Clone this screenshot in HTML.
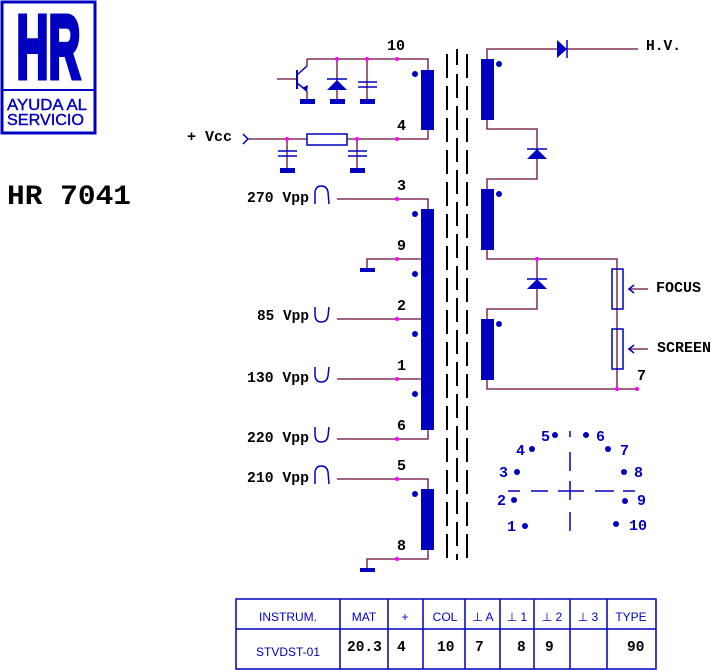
<!DOCTYPE html>
<html><head><meta charset="utf-8"><style>
body{margin:0;background:#fff;}
svg{display:block;}
.n{font-family:"Liberation Mono",monospace;font-weight:bold;font-size:15px;fill:#000;}
.b{font-family:"Liberation Mono",monospace;font-weight:bold;font-size:14.5px;fill:#000;}
.p{font-family:"Liberation Mono",monospace;font-weight:bold;font-size:15px;fill:#0000c0;}
.t{font-family:"Liberation Sans",sans-serif;font-size:12px;fill:#0000c0;}
</style></head><body>
<svg width="712" height="670" viewBox="0 0 712 670" xmlns="http://www.w3.org/2000/svg">
<!-- logo -->
<rect x="2" y="2" width="93" height="131" fill="none" stroke="#0000c0" stroke-width="3"/>
<line x1="2" y1="90" x2="95" y2="90" stroke="#0000c0" stroke-width="2"/>
<text x="48.5" y="78" text-anchor="middle" font-family="Liberation Sans,sans-serif" font-weight="bold" font-size="90" fill="#0000c0" stroke="#0000c0" stroke-width="5" textLength="64" lengthAdjust="spacingAndGlyphs">HR</text>
<text x="7" y="110" font-family="Liberation Sans,sans-serif" font-size="16" fill="#0000c0" stroke="#0000c0" stroke-width="0.4" textLength="80" lengthAdjust="spacingAndGlyphs">AYUDA AL</text>
<text x="7" y="125" font-family="Liberation Sans,sans-serif" font-size="16" fill="#0000c0" stroke="#0000c0" stroke-width="0.4" textLength="77" lengthAdjust="spacingAndGlyphs">SERVICIO</text>
<text x="7" y="204" font-family="Liberation Mono,monospace" font-weight="bold" font-size="28" fill="#000" textLength="124" lengthAdjust="spacingAndGlyphs">HR 7041</text>

<g stroke="#6a0a3a" stroke-width="1.3" fill="none">
<polyline points="307,59 428,59 428,70"/>
<line x1="307" y1="59" x2="307" y2="66"/>
<line x1="337" y1="59" x2="337" y2="100"/>
<line x1="367" y1="59" x2="367" y2="100"/>
<line x1="277" y1="79" x2="297" y2="79"/>
<line x1="307" y1="91" x2="307" y2="100"/>
<polyline points="248,139 307,139"/><polyline points="347,139 428,139 428,130"/>
<line x1="287" y1="139" x2="287" y2="170"/><line x1="357" y1="139" x2="357" y2="170"/>
<polyline points="337,199 428,199 428,209"/>
<polyline points="367,268 367,259 428,259"/>
<line x1="337" y1="319" x2="428" y2="319"/>
<line x1="337" y1="379" x2="428" y2="379"/>
<polyline points="337,439 428,439 428,430"/>
<polyline points="337,479 428,479 428,489"/>
<polyline points="367,568 367,559 428,559 428,550"/>
<polyline points="487,59 487,49 638,49"/>
<polyline points="487,120 487,129 537,129 537,179 487,179 487,189"/>
<polyline points="487,250 487,259 617,259 617,389 487,389 487,380"/>
<polyline points="537,259 537,309 487,309 487,319"/>
<line x1="617" y1="389" x2="637" y2="389"/>
<line x1="628" y1="289" x2="648" y2="289"/>
<line x1="628" y1="349" x2="648" y2="349"/>
</g>
<g stroke="#000" stroke-width="2">
<line x1="447" y1="54" x2="447" y2="560" stroke-dasharray="24,8"/>
<line x1="467" y1="54" x2="467" y2="560" stroke-dasharray="24,8"/>
<line x1="457" y1="49" x2="457" y2="560" stroke-dasharray="16,9,24,8,24,8,24,8,24,8,24,8,24,8,24,8,24,8,24,8,24,8,24,8,24,8,24,8,24,8,24,8,24,8"/>
</g>
<g fill="#0000c0">
<rect x="421" y="70" width="13" height="60"/>
<rect x="421" y="209" width="13" height="221"/>
<rect x="421" y="489" width="13" height="61"/>
<rect x="481" y="59" width="13" height="61"/>
<rect x="481" y="189" width="13" height="61"/>
<rect x="481" y="319" width="13" height="61"/>
<circle cx="415" cy="74" r="3"/>
<circle cx="415" cy="214" r="3"/><circle cx="415" cy="274" r="3"/><circle cx="415" cy="334" r="3"/><circle cx="415" cy="394" r="3"/>
<circle cx="415" cy="494" r="3"/>
<circle cx="499" cy="64" r="3"/><circle cx="499" cy="194" r="3"/><circle cx="499" cy="324" r="3"/>
<rect x="300" y="99" width="15" height="5"/><rect x="330" y="99" width="15" height="5"/><rect x="360" y="99" width="15" height="5"/>
<rect x="280" y="168" width="15" height="5"/><rect x="350" y="168" width="15" height="5"/>
<rect x="360" y="268" width="15" height="4"/><rect x="360" y="568" width="15" height="4"/>
<polygon points="327,90 347,90 337,80"/>
<polygon points="557,40 557,58 567,49"/>
<polygon points="527,159 547,159 537,149"/>
<polygon points="527,289 547,289 537,279"/>
</g>
<g stroke="#0000c0" stroke-width="1.5" fill="none">
<line x1="327" y1="79" x2="347" y2="79"/>
<line x1="567" y1="40" x2="567" y2="58"/>
<line x1="527" y1="149" x2="547" y2="149"/>
<line x1="527" y1="279" x2="547" y2="279"/>
<line x1="358" y1="82" x2="377" y2="82"/><line x1="358" y1="87" x2="377" y2="87"/>
<line x1="278" y1="151" x2="297" y2="151"/><line x1="278" y1="156" x2="297" y2="156"/>
<line x1="348" y1="151" x2="367" y2="151"/><line x1="348" y1="156" x2="367" y2="156"/>
<line x1="297" y1="70" x2="297" y2="89" stroke-width="2"/>
<line x1="297" y1="75" x2="307" y2="66"/><line x1="297" y1="83" x2="307" y2="91"/>
<rect x="307" y="134" width="40" height="11"/>
<rect x="612" y="269" width="11" height="40"/>
<rect x="612" y="329" width="11" height="40"/>
<polyline points="243,134 248,139 243,144"/>
<polyline points="634,285 629,289 634,293"/><polyline points="634,345 629,349 634,353"/>
<path d="M315,204 L315,192 Q316,186 321,186 Q327,186 328,192 L329,204"/>
<path d="M315,307 L315,316 Q316,322 321,322 Q327,322 328,316 L329,307"/>
<path d="M315,367 L315,376 Q316,382 321,382 Q327,382 328,376 L329,367"/>
<path d="M315,427 L315,436 Q316,442 321,442 Q327,442 328,436 L329,427"/>
<path d="M315,484 L315,472 Q316,466 321,466 Q327,466 328,472 L329,484"/>
</g>
<polygon points="302,88 308,85 307,92" fill="#0000c0"/>
<g fill="#ff00ff">
<circle cx="337" cy="59" r="2"/><circle cx="367" cy="59" r="2"/><circle cx="397" cy="59" r="2"/>
<circle cx="287" cy="139" r="2"/><circle cx="357" cy="139" r="2"/><circle cx="397" cy="139" r="2"/>
<circle cx="397" cy="199" r="2"/><circle cx="397" cy="259" r="2"/><circle cx="397" cy="319" r="2"/><circle cx="397" cy="379" r="2"/><circle cx="397" cy="439" r="2"/><circle cx="397" cy="479" r="2"/><circle cx="397" cy="559" r="2"/>
<circle cx="537" cy="259" r="2"/><circle cx="617" cy="389" r="2"/><circle cx="637" cy="389" r="2"/>
</g>
<text class="n" x="387" y="50">10</text>
<text class="n" x="397" y="130">4</text>
<text class="n" x="397" y="190">3</text>
<text class="n" x="397" y="250">9</text>
<text class="n" x="397" y="310">2</text>
<text class="n" x="397" y="370">1</text>
<text class="n" x="397" y="430">6</text>
<text class="n" x="397" y="470">5</text>
<text class="n" x="397" y="550">8</text>
<text class="n" x="637" y="380">7</text>
<text class="b" x="187" y="141" textLength="45" lengthAdjust="spacingAndGlyphs">+ Vcc</text>
<text class="b" x="247" y="202" textLength="62" lengthAdjust="spacingAndGlyphs">270 Vpp</text>
<text class="b" x="257" y="320" textLength="52" lengthAdjust="spacingAndGlyphs">85 Vpp</text>
<text class="b" x="247" y="382" textLength="62" lengthAdjust="spacingAndGlyphs">130 Vpp</text>
<text class="b" x="247" y="442" textLength="62" lengthAdjust="spacingAndGlyphs">220 Vpp</text>
<text class="b" x="247" y="482" textLength="62" lengthAdjust="spacingAndGlyphs">210 Vpp</text>
<text class="b" x="646" y="50" textLength="35" lengthAdjust="spacingAndGlyphs">H.V.</text>
<text class="b" x="656" y="292" textLength="45" lengthAdjust="spacingAndGlyphs">FOCUS</text>
<text class="b" x="657" y="352" textLength="54" lengthAdjust="spacingAndGlyphs">SCREEN</text>
<g stroke="#0000c0" stroke-width="1.5">
<line x1="570" y1="431" x2="570" y2="437"/><line x1="570" y1="452" x2="570" y2="471"/>
<line x1="570" y1="481" x2="570" y2="500"/><line x1="570" y1="512" x2="570" y2="531"/>
<line x1="508" y1="491" x2="520" y2="491"/><line x1="531" y1="491" x2="548" y2="491"/>
<line x1="558" y1="491" x2="584" y2="491"/><line x1="595" y1="491" x2="614" y2="491"/>
<line x1="623" y1="491" x2="635" y2="491"/>
</g>
<g fill="#0000c0">
<circle cx="555" cy="435" r="3"/><circle cx="586" cy="435" r="3"/><circle cx="532" cy="449" r="3"/><circle cx="608" cy="449" r="3"/>
<circle cx="517" cy="472" r="3"/><circle cx="624" cy="472" r="3"/><circle cx="514" cy="500" r="3"/><circle cx="625" cy="501" r="3"/>
<circle cx="525" cy="526" r="3"/><circle cx="616" cy="524" r="3"/>
</g>
<text class="p" x="541" y="441">5</text><text class="p" x="596" y="441">6</text>
<text class="p" x="516" y="455">4</text><text class="p" x="620" y="455">7</text>
<text class="p" x="499" y="477">3</text><text class="p" x="634" y="477">8</text>
<text class="p" x="497" y="505">2</text><text class="p" x="637" y="505">9</text>
<text class="p" x="507" y="531">1</text><text class="p" x="629" y="530">10</text>
<g stroke="#0000c0" stroke-width="1.5" fill="none">
<rect x="236" y="599" width="420" height="70"/>
<line x1="236" y1="629" x2="656" y2="629"/>
<line x1="340" y1="599" x2="340" y2="669"/><line x1="388" y1="599" x2="388" y2="669"/>
<line x1="423" y1="599" x2="423" y2="669"/><line x1="465" y1="599" x2="465" y2="669"/>
<line x1="500" y1="599" x2="500" y2="669"/><line x1="534" y1="599" x2="534" y2="669"/>
<line x1="570" y1="599" x2="570" y2="669"/><line x1="607" y1="599" x2="607" y2="669"/>
</g>
<text class="t" x="288" y="621" text-anchor="middle">INSTRUM.</text>
<text class="t" x="364" y="621" text-anchor="middle">MAT</text>
<text class="t" x="405" y="621" text-anchor="middle">+</text>
<text class="t" x="445" y="621" text-anchor="middle">COL</text>
<text class="t" x="483" y="621" text-anchor="middle">⊥ A</text>
<text class="t" x="517" y="621" text-anchor="middle">⊥ 1</text>
<text class="t" x="552" y="621" text-anchor="middle">⊥ 2</text>
<text class="t" x="588" y="621" text-anchor="middle">⊥ 3</text>
<text class="t" x="631" y="621" text-anchor="middle">TYPE</text>
<text class="t" x="288" y="656" text-anchor="middle">STVDST-01</text>
<text class="b" x="347" y="651">20.3</text>
<text class="b" x="397" y="651">4</text>
<text class="b" x="437" y="651">10</text>
<text class="b" x="475" y="651">7</text>
<text class="b" x="517" y="651">8</text>
<text class="b" x="545" y="651">9</text>
<text class="b" x="627" y="651">90</text>
</svg>
</body></html>
